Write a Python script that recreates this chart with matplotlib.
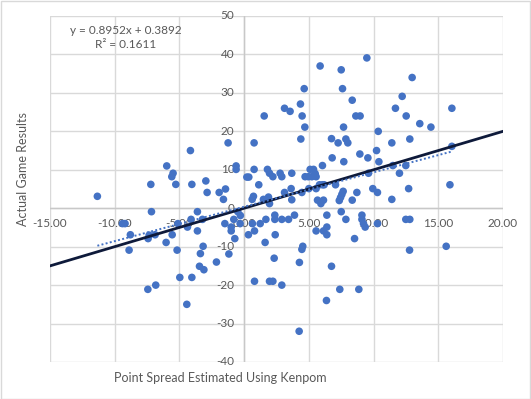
import matplotlib
matplotlib.use("Agg")
import matplotlib.pyplot as plt
from matplotlib.patches import Rectangle
import numpy as np

plt.rcParams['font.family'] = ['Lato', 'DejaVu Sans']

# Point spread estimated using Kenpom (x) vs actual game result (y)
x_spread = [
    -11.34, -7.21, -5.98, -5.49, -5.59, -5.28, -4.15, -4.04, -2.96, -2.86,
    -1.93, -1.44, -1.60, -1.24, -0.62, -0.62, 0.21, 0.36, 0.77, 1.55,
    0.77, 1.13, 1.80, 1.96, 0.72, 0.62, 1.49, 1.88,
    3.12, 3.55, 4.35, 4.48, 4.64, 4.69, 4.38, 5.87, 7.50, 7.60,
    8.35, 8.63, 8.96, 9.48, 7.68, 6.75, 7.26, 7.86, 8.01, 10.36,
    11.41, 11.69, 12.21, 12.52, 12.98, 12.80, 13.57, 14.43, 16.05, 16.05,
    15.90, 8.94, 9.56, 10.23, 10.41, 6.80, 7.70, 6.05, 11.49, 12.49,
    12.00, 9.61, 12.71, 3.68, 2.22, 2.78, 2.91,
    5.10, 5.36, 4.71, 4.97, 5.23, 5.49, 5.56, 6.05, 7.06, 8.71,
    9.94, 10.30, 11.41, 4.46, 5.00, 5.56, 5.82, 6.18, 3.63, 3.12,
    7.35, 7.45, 7.55, 7.65, 5.67, 6.13, 5.93, 3.68, 8.35,
    -7.16, -9.40, -9.20, -8.79, -8.89, -7.42, -7.34, -6.88, -6.03, -5.56,
    -5.18, -5.12, -4.38, -4.10, -3.61, -3.61, -3.22, -3.17, -3.38, -3.45,
    -3.11, -4.04, -4.97, -7.44, -6.83, -4.43, -2.14, -1.18, -1.49, -1.00,
    -1.00, -0.72, -0.80, -0.49, -0.29, -0.31, 0.33, 0.64, 0.80, 1.68,
    1.62, 1.24, 0.80, 1.96, 1.96,
    2.37, 2.37, 2.91, 3.43, 3.89, 2.40, 2.32, 2.22, 2.91, 4.27,
    4.46, 4.53, 4.25, 5.56, 6.13, 6.39, 6.39, 6.39, 7.50, 7.86,
    6.75, 6.36, 7.39, 8.86, 8.53, 9.10, 9.10, 9.22, 9.35, 10.30,
    12.49, 12.80, 12.78, 15.61,
]
y_result = [
    3.1, 6.2, 11.0, 9.1, 8.2, 6.2, 15.0, 6.2, 7.1, 4.1,
    4.1, 5.0, 2.3, 17.0, 11.0, 10.1, 8.1, 8.1, 17.0, 24.0,
    10.1, 6.1, 10.1, 9.1, 3.1, 2.3, 2.3, 2.9,
    26.0, 25.2, 27.1, 24.0, 31.1, 21.1, 18.0, 37.0, 36.0, 31.1,
    28.1, 24.0, 24.0, 39.1, 21.1, 18.1, 17.0, 18.0, 17.0, 20.0,
    17.0, 26.0, 29.1, 24.0, 34.0, 18.0, 22.0, 21.1, 26.0, 16.1,
    6.1, 14.1, 13.1, 15.0, 12.1, 13.1, 12.1, 11.1, 11.1, 11.1,
    9.1, 9.1, 5.1, 9.1, 8.2, 9.1, 8.2,
    10.1, 10.1, 8.2, 8.2, 8.2, 9.0, 8.2, 6.1, 6.1, 4.1,
    5.1, 4.1, 2.3, 4.1, 5.1, 5.1, 6.1, 6.1, 5.1, 4.1,
    2.0, 2.8, 3.6, 4.4, 2.1, 2.1, 1.2, 2.2, 2.1,
    -0.9, -4.0, -4.0, -6.9, -10.9, -7.9, -7.0, -6.9, -8.9, -6.9,
    -10.9, -4.0, -4.9, -2.9, -0.9, -5.9, -2.9, -9.9, -11.8, -15.1,
    -16.0, -18.0, -18.0, -21.1, -20.0, -25.0, -14.0, -11.9, -4.0, -4.9,
    -5.9, -7.9, -2.9, -0.9, -1.9, -4.0, -6.9, -4.0, -5.9, -2.9,
    -8.9, -4.0, -19.0, -19.0, 1.2,
    -1.8, -2.9, -2.9, -2.9, -1.8, -6.9, -13.0, -19.0, -20.0, -14.1,
    -10.7, -9.9, -32.0, -5.9, -5.9, -6.9, -4.9, -1.8, -0.9, -2.9,
    -15.1, -24.0, -21.1, -21.1, -7.9, -1.8, -2.9, -4.0, -4.9, -4.0,
    -2.9, -2.9, -10.9, -9.9,
]

x_ticks = [-15, -10, -5, 0, 5, 10, 15, 20]
y_ticks = [-40, -30, -20, -10, 0, 10, 20, 30, 40, 50]
trend_slope = 0.8952
trend_intercept = 0.3892
trend_r2 = 0.1611

x_title = "Point Spread Estimated Using Kenpom"
y_title = "Actual Game Results"

text_color = "#595959"
grid_color = "#D9D9D9"
point_color = "#4472C4"

fig = plt.figure(figsize=(5.31, 3.99), dpi=100)
fig.patch.set_facecolor("white")
ax = fig.add_axes([50 / 531, 1 - 362 / 399, 453 / 531, 346 / 399])
ax.set_xlim(x_ticks[0], x_ticks[-1])
ax.set_ylim(y_ticks[0], y_ticks[-1])
ax.set_xticks(x_ticks)
ax.set_yticks(y_ticks)
ax.tick_params(length=0, labelbottom=False, labelleft=False)
for s in ax.spines.values():
    s.set_visible(False)
ax.grid(True, color=grid_color, lw=1.0, zorder=0)
ax.set_axisbelow(True)
ax.axhline(0, color="#C8C8C8", lw=1.0, zorder=0.8)
ax.axvline(0, color="#C8C8C8", lw=1.0, zorder=0.8)

# tick labels drawn at the crossing axes
for v in y_ticks:
    ax.text(-0.75, v, f"{v}", ha="right", va="center", fontsize=8.5,
            color=text_color, zorder=1.5)
for v in x_ticks:
    ax.text(v, -4.0, f"{v:.2f}", ha="center", va="center", fontsize=8.5,
            color=text_color, zorder=1.5, clip_on=False)

ax.scatter(x_spread, y_result, s=30, color=point_color, edgecolors="none",
           zorder=3)

# reference line y = x
ax.axline((0, 0), slope=1, color="#0E1A3A", lw=2.0, zorder=4)

# linear trendline
xs = np.array([min(x_spread), max(x_spread)])
ax.plot(xs, trend_slope * xs + trend_intercept, color=point_color, lw=1.4,
        ls=(0, (1, 1.2)), zorder=4)

ax.text(-9.15, 46.3, f"y = {trend_slope}x + {trend_intercept}", ha="center",
        va="center", fontsize=8.5, color=text_color, zorder=2)
ax.text(-9.15, 42.6, f"R² = {trend_r2}", ha="center", va="center",
        fontsize=8.5, color=text_color, zorder=2)

fig.text(220.5 / 531, 1 - 378 / 399, x_title, ha="center", va="center",
         fontsize=9, color=text_color)
fig.text(23 / 531, 1 - 169 / 399, y_title, ha="center", va="center",
         rotation=90, fontsize=9, color=text_color)

fig.patches.append(Rectangle((0.5 / 531, 0.5 / 399), 1 - 1.5 / 531, 1 - 1.5 / 399,
                             transform=fig.transFigure, fill=False,
                             edgecolor=grid_color, lw=1.0))

fig.savefig("out.png", dpi=100, facecolor="white")
